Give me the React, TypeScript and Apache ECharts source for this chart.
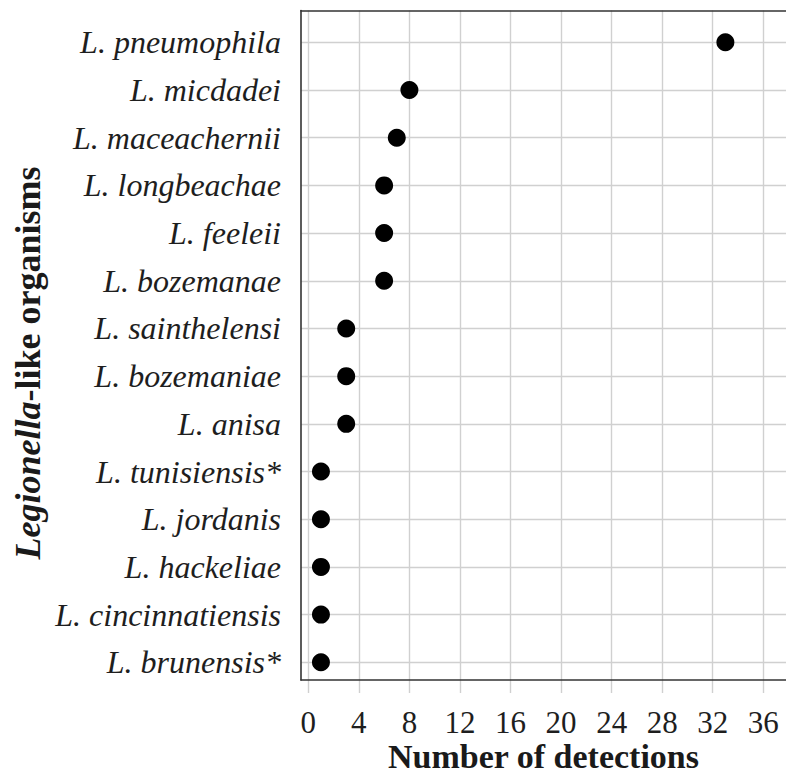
import React, { useEffect, useRef } from "react";
import * as echarts from "echarts";

const categories = [
  "L. pneumophila",
  "L. micdadei",
  "L. maceachernii",
  "L. longbeachae",
  "L. feeleii",
  "L. bozemanae",
  "L. sainthelensi",
  "L. bozemaniae",
  "L. anisa",
  "L. tunisiensis*",
  "L. jordanis",
  "L. hackeliae",
  "L. cincinnatiensis",
  "L. brunensis*",
];
const detections = [33, 8, 7, 6, 6, 6, 3, 3, 3, 1, 1, 1, 1, 1];
const xTickMin = 0;
const xTickMax = 36;
const xTickStep = 4;

// layout
const W = 786;
const H = 778;
const frameLeft = 301;
const frameTop = 10.5;
const frameBottomY = 693;
const zeroX = 308.3;
const tickSpanPx = 455; // 0..36
const firstRowY = 42.3;
const lastRowY = 662.3;

const pxPerUnit = tickSpanPx / (xTickMax - xTickMin);
const dataXMin = xTickMin - (zeroX - frameLeft) / pxPerUnit;
const dataXMax = xTickMin + (W - zeroX) / pxPerUnit;

const FONT = "Liberation Serif";

export default function App() {
  const ref = useRef<HTMLDivElement>(null);
  useEffect(() => {
    if (!ref.current) return;
    const chart = echarts.init(ref.current, undefined, { renderer: "svg" });
    const axisLineStyle = { color: "#333", width: 1.6 };
    const gridLine = { show: true, lineStyle: { color: "#d0d0d0", width: 1.4 } };
    const option: any = {
      animation: false,
      backgroundColor: "#fff",
      grid: [
        { left: frameLeft, right: 0, top: frameTop, bottom: H - frameBottomY },
        { left: zeroX, width: tickSpanPx, top: frameTop, bottom: H - frameBottomY },
        { left: frameLeft, right: 0, top: firstRowY, height: lastRowY - firstRowY },
      ],
      xAxis: [
        {
          gridIndex: 0, type: "value", position: "bottom", min: 0, max: 1,
          axisLine: { show: true, lineStyle: axisLineStyle },
          axisTick: { show: false }, axisLabel: { show: false }, splitLine: { show: false },
          z: 5,
          name: "Number of detections",
          nameLocation: "middle",
          nameGap: 61,
          nameTextStyle: { fontFamily: FONT, fontWeight: "bold", fontSize: 34, lineHeight: 30, color: "#1a1a1a" },
        },
        {
          gridIndex: 0, type: "value", position: "top", min: 0, max: 1,
          axisLine: { show: true, lineStyle: axisLineStyle },
          axisTick: { show: false }, axisLabel: { show: false }, splitLine: { show: false },
          z: 5,
        },
        {
          gridIndex: 1, type: "value", position: "bottom", min: xTickMin, max: xTickMax, interval: xTickStep,
          axisLine: { show: false }, axisTick: { show: false },
          axisLabel: { show: true, margin: 16, fontFamily: FONT, fontSize: 31, lineHeight: 26, color: "#1e1e1e" },
          splitLine: gridLine,
        },
        {
          gridIndex: 2, type: "value", min: dataXMin, max: dataXMax, show: false,
        },
      ],
      yAxis: [
        {
          gridIndex: 0, type: "value", min: 0, max: 1,
          axisLine: { show: true, lineStyle: axisLineStyle },
          axisTick: { show: false }, axisLabel: { show: false }, splitLine: { show: false },
          z: 5,
        },
        { gridIndex: 1, type: "value", min: 0, max: 1, show: false },
        {
          gridIndex: 2, type: "category", data: categories, inverse: true, boundaryGap: false,
          axisLine: { show: false }, axisTick: { show: false },
          axisLabel: { interval: 0, margin: 20, fontFamily: FONT, fontStyle: "italic", fontSize: 32, color: "#1e1e1e" },
          splitLine: { ...gridLine, interval: 0 },
        },
      ],
      graphic: [
        {
          type: "text",
          x: 28,
          y: 363,
          rotation: Math.PI / 2,
          style: {
            text: "{i|Legionella}{b|-like organisms}",
            align: "center",
            verticalAlign: "middle",
            rich: {
              i: { fontFamily: FONT, fontWeight: "bold", fontStyle: "italic", fontSize: 36, fill: "#1a1a1a" },
              b: { fontFamily: FONT, fontWeight: "bold", fontSize: 36, fill: "#1a1a1a" },
            },
          },
        },
      ],
      series: [
        {
          type: "scatter",
          xAxisIndex: 3,
          yAxisIndex: 2,
          data: detections.map((v, i) => [v, categories[i]]),
          symbol: "circle",
          symbolSize: 18,
          itemStyle: { color: "#000", opacity: 1 },
          z: 10,
        },
      ],
    };
    chart.setOption(option);
    return () => chart.dispose();
  }, []);
  return (
    <div
      ref={ref}
      style={{ position: "fixed", left: 0, top: 0, width: W, height: H }}
    />
  );
}
